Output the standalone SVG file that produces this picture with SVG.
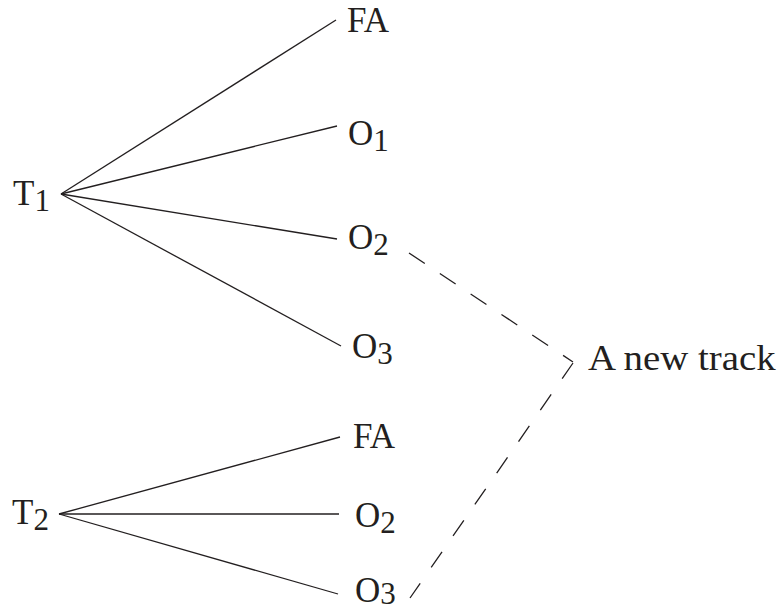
<svg xmlns="http://www.w3.org/2000/svg" width="782" height="614" viewBox="0 0 782 614">
<style>
text{font-family:"Liberation Serif","Times New Roman",serif;font-size:35px;fill:#231f20}
.sub{font-size:31px}
.edge{stroke:#231f20;stroke-width:1.3;fill:none}
.dash{stroke:#231f20;stroke-width:1.3;fill:none}
</style>
<rect width="782" height="614" fill="#fff"/>
<g id="connectors">
<line class="edge" x1="61" y1="194" x2="336" y2="20"/>
<line class="edge" x1="61" y1="194" x2="337" y2="126"/>
<line class="edge" x1="61" y1="194" x2="337" y2="239"/>
<line class="edge" x1="61" y1="194" x2="341" y2="346"/>
<line class="edge" x1="59" y1="514" x2="340" y2="437"/>
<line class="edge" x1="59" y1="514" x2="339" y2="514"/>
<line class="edge" x1="59" y1="514" x2="338" y2="594"/>
<line class="dash" stroke-dasharray="19 18" x1="409" y1="253" x2="573" y2="362"/>
<line class="dash" stroke-dasharray="19 19.3" x1="573" y1="363" x2="410" y2="598"/>
</g>
<g id="T1"><text x="13" y="205">T<tspan class="sub" dy="6">1</tspan></text></g>
<g id="T1-FA"><text x="347" y="32">FA</text></g>
<g id="T1-O1"><text x="348" y="145">O<tspan class="sub" dy="6">1</tspan></text></g>
<g id="T1-O2"><text x="348" y="249">O<tspan class="sub" dy="6">2</tspan></text></g>
<g id="T1-O3"><text x="352" y="358">O<tspan class="sub" dy="6">3</tspan></text></g>
<g id="T2"><text x="12" y="524">T<tspan class="sub" dy="6">2</tspan></text></g>
<g id="T2-FA"><text x="353" y="448">FA</text></g>
<g id="T2-O2"><text x="355" y="527">O<tspan class="sub" dy="6">2</tspan></text></g>
<g id="T2-O3"><text x="355" y="602">O<tspan class="sub" dy="2">3</tspan></text></g>
<g id="new-track"><text transform="translate(588,370) scale(1.11,1)" x="0" y="0">A new track</text></g>
</svg>
